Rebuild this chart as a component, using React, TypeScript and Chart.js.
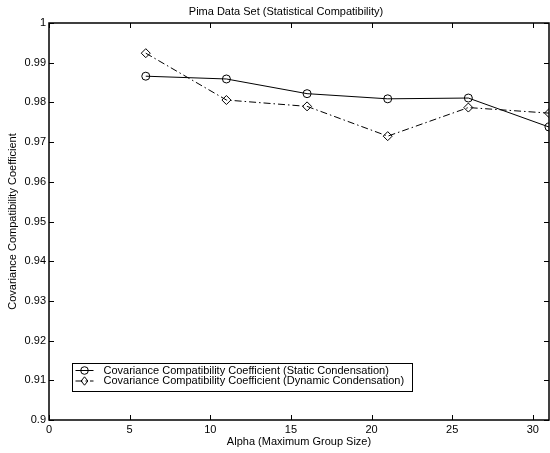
import React, { useEffect, useRef } from 'react';
import { Chart, registerables } from 'chart.js';

Chart.register(...registerables);

const TITLE = 'Pima Data Set (Statistical Compatibility)';
const X_LABEL = 'Alpha (Maximum Group Size)';
const Y_LABEL = 'Covariance Compatibility Coefficient';

const ALPHA = [6, 11, 16, 21, 26, 31];
const STATIC_CC = [0.9866, 0.9859, 0.9822, 0.9809, 0.9811, 0.9738];
const DYNAMIC_CC = [0.9924, 0.9806, 0.979, 0.9715, 0.9787, 0.9773];
const SERIES_NAMES = [
  'Covariance Compatibility Coefficient (Static Condensation)',
  'Covariance Compatibility Coefficient (Dynamic Condensation)',
];

const X_TICKS = [0, 5, 10, 15, 20, 25, 30];
const Y_TICKS = [0.9, 0.91, 0.92, 0.93, 0.94, 0.95, 0.96, 0.97, 0.98, 0.99, 1];
const X_MIN = 0;
const X_MAX = 31;
const Y_MIN = 0.9;
const Y_MAX = 1;

const FONT = '"Liberation Sans", Arial, Helvetica, sans-serif';

const decorPlugin = {
  id: 'decor',
  afterDraw(chart: any) {
    const { ctx, chartArea: a, scales } = chart;
    const xs = scales.x;
    const ys = scales.y;
    ctx.save();
    // frame
    ctx.strokeStyle = '#000';
    ctx.lineWidth = 1.5;
    ctx.strokeRect(a.left, a.top, a.right - a.left, a.bottom - a.top);
    // inward ticks
    ctx.lineWidth = 1;
    const tl = 5;
    ctx.beginPath();
    X_TICKS.forEach((v) => {
      const px = Math.round(xs.getPixelForValue(v)) + 0.5;
      ctx.moveTo(px, a.bottom);
      ctx.lineTo(px, a.bottom - tl);
      ctx.moveTo(px, a.top);
      ctx.lineTo(px, a.top + tl);
    });
    Y_TICKS.forEach((v) => {
      const py = Math.round(ys.getPixelForValue(v)) + 0.5;
      ctx.moveTo(a.left, py);
      ctx.lineTo(a.left + tl, py);
      ctx.moveTo(a.right, py);
      ctx.lineTo(a.right - tl, py);
    });
    ctx.stroke();

    // title
    ctx.fillStyle = '#000';
    ctx.font = `11px ${FONT}`;
    ctx.textAlign = 'center';
    ctx.textBaseline = 'middle';
    ctx.fillText(TITLE, 286, 12);
    // x title
    ctx.fillText(X_LABEL, (a.left + a.right) / 2, 442);
    // y title
    ctx.save();
    ctx.translate(13, (a.top + a.bottom) / 2);
    ctx.rotate(-Math.PI / 2);
    ctx.fillText(Y_LABEL, 0, 0);
    ctx.restore();

    // legend
    const lx = a.left + 23.5;
    const ly = 363.5;
    const lw = 340;
    const lh = 28;
    ctx.fillStyle = '#fff';
    ctx.fillRect(lx, ly, lw, lh);
    ctx.strokeStyle = '#000';
    ctx.lineWidth = 1;
    ctx.strokeRect(lx, ly, lw, lh);
    chart.data.datasets.forEach((ds: any, i: number) => {
      const cy = ly + 7 + i * 10.5;
      ctx.strokeStyle = '#000';
      ctx.lineWidth = 1;
      ctx.setLineDash(ds.borderDash || []);
      ctx.beginPath();
      ctx.moveTo(lx + 3, cy);
      ctx.lineTo(lx + 21, cy);
      ctx.stroke();
      ctx.setLineDash([]);
      const mx = lx + 12;
      ctx.beginPath();
      if (ds.pointStyle === 'rectRot') {
        const r = 4.2;
        ctx.moveTo(mx, cy - r);
        ctx.lineTo(mx + r * 0.8, cy);
        ctx.lineTo(mx, cy + r);
        ctx.lineTo(mx - r * 0.8, cy);
        ctx.closePath();
      } else {
        ctx.arc(mx, cy, 3.8, 0, Math.PI * 2);
      }
      ctx.stroke();
      ctx.fillStyle = '#000';
      ctx.font = `11px ${FONT}`;
      ctx.textAlign = 'left';
      ctx.textBaseline = 'middle';
      ctx.fillText(ds.label, lx + 31, cy);
    });
    ctx.restore();
  },
};

export default function App() {
  const ref = useRef<HTMLCanvasElement | null>(null);
  useEffect(() => {
    document.body.style.margin = '0';
    const canvas = ref.current!;
    const chart = new Chart(canvas, {
      type: 'line',
      data: {
        datasets: [
          {
            label: SERIES_NAMES[0],
            data: ALPHA.map((x, i) => ({ x, y: STATIC_CC[i] })),
            borderColor: '#000',
            backgroundColor: 'rgba(0,0,0,0)',
            borderWidth: 1,
            pointStyle: 'circle',
            pointRadius: 4,
            pointBorderWidth: 1,
            pointBorderColor: '#000',
            pointBackgroundColor: 'rgba(0,0,0,0)',
            tension: 0,
            clip: 0,
          },
          {
            label: SERIES_NAMES[1],
            data: ALPHA.map((x, i) => ({ x, y: DYNAMIC_CC[i] })),
            borderColor: '#000',
            backgroundColor: 'rgba(0,0,0,0)',
            borderWidth: 1,
            borderDash: [7, 3, 1.5, 3],
            pointStyle: 'rectRot',
            pointRadius: 4.5,
            pointBorderWidth: 1,
            pointBorderColor: '#000',
            pointBackgroundColor: 'rgba(0,0,0,0)',
            tension: 0,
            clip: 0,
          },
        ],
      },
      options: {
        animation: false,
        responsive: false,
        maintainAspectRatio: false,
        devicePixelRatio: 1,
        layout: { autoPadding: false, padding: { left: 0, right: 1, top: 23, bottom: 0 } },
        plugins: {
          legend: { display: false },
          title: { display: false },
          tooltip: { enabled: false },
        },
        scales: {
          x: {
            type: 'linear',
            min: X_MIN,
            max: X_MAX,
            grid: { display: false, drawTicks: false },
            border: { display: false },
            afterBuildTicks: (s: any) => {
              s.ticks = X_TICKS.map((v) => ({ value: v }));
            },
            afterFit: (s: any) => {
              s.height = 33;
              s.paddingLeft = 0;
              s.paddingRight = 0;
            },
            ticks: {
              padding: 3,
              color: '#000',
              font: { family: FONT, size: 11 },
              maxRotation: 0,
              autoSkip: false,
            },
          },
          y: {
            type: 'linear',
            min: Y_MIN,
            max: Y_MAX,
            grid: { display: false, drawTicks: false },
            border: { display: false },
            afterBuildTicks: (s: any) => {
              s.ticks = Y_TICKS.map((v) => ({ value: v }));
            },
            afterFit: (s: any) => {
              s.width = 49;
              s.paddingTop = 0;
              s.paddingBottom = 0;
            },
            ticks: {
              padding: 3,
              color: '#000',
              font: { family: FONT, size: 11 },
              autoSkip: false,
              callback: (v: any) => String(Number(Number(v).toFixed(2))),
            },
          },
        },
      },
      plugins: [decorPlugin],
    });
    return () => chart.destroy();
  }, []);
  return (
    <div style={{ position: 'absolute', left: 0, top: 0, width: 550, height: 453, background: '#fff' }}>
      <canvas ref={ref} width={550} height={453} style={{ width: 550, height: 453 }} />
    </div>
  );
}
